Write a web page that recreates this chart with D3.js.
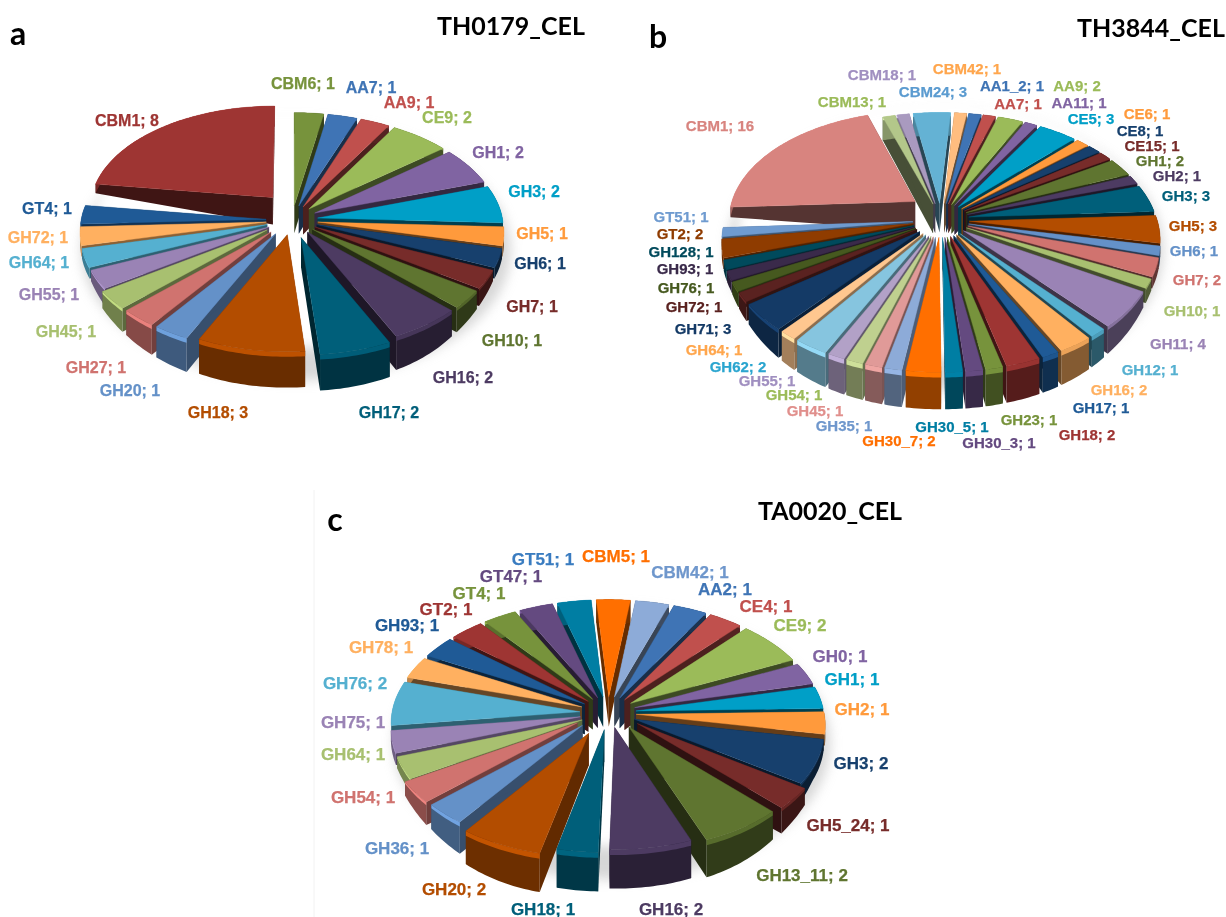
<!DOCTYPE html>
<html>
<head>
<meta charset="utf-8">
<script src="https://cdn.jsdelivr.net/npm/d3@7"></script>
<style>
    html, body { margin: 0; padding: 0; background: #fff; }
    svg { display: block; filter: blur(0.4px); }
    .lab { font-family: "Liberation Sans", sans-serif; font-weight: 700; text-anchor: middle; dominant-baseline: central; stroke-width: 0.25px; }
    .ttl { font-family: Lato, sans-serif; font-weight: 700; fill: #000; text-anchor: middle; dominant-baseline: central; }
</style>
</head>
<body>
<div id="chart"></div>
<script>
/* global d3 */

// series a
let categoriesA = ['AA7', 'AA9', 'CE9', 'GH1', 'GH3', 'GH5', 'GH6', 'GH7', 'GH10', 'GH16', 'GH17', 'GH18', 'GH20', 'GH27', 'GH45', 'GH55', 'GH64', 'GH72', 'GT4', 'CBM1', 'CBM6']
let valuesA = [1, 1, 2, 2, 2, 1, 1, 1, 1, 2, 2, 3, 1, 1, 1, 1, 1, 1, 1, 8, 1]

// series b
let categoriesB = ['AA1_2', 'AA7', 'AA9', 'AA11', 'CE5', 'CE6', 'CE8', 'CE15', 'GH1', 'GH2', 'GH3', 'GH5', 'GH6', 'GH7', 'GH10', 'GH11', 'GH12', 'GH16', 'GH17', 'GH18', 'GH23', 'GH30_3', 'GH30_5', 'GH30_7', 'GH35', 'GH45', 'GH54', 'GH55', 'GH62', 'GH64', 'GH71', 'GH72', 'GH76', 'GH93', 'GH128', 'GT2', 'GT51', 'CBM1', 'CBM13', 'CBM18', 'CBM24', 'CBM42']
let valuesB = [1, 1, 2, 1, 3, 1, 1, 1, 2, 1, 3, 3, 1, 2, 1, 4, 1, 2, 1, 2, 1, 1, 1, 2, 1, 1, 1, 1, 2, 1, 3, 1, 1, 1, 1, 2, 1, 16, 1, 1, 3, 1]

// series c
let categoriesC = ['AA2', 'CE4', 'CE9', 'GH0', 'GH1', 'GH2', 'GH3', 'GH5_24', 'GH13_11', 'GH16', 'GH18', 'GH20', 'GH36', 'GH54', 'GH64', 'GH75', 'GH76', 'GH78', 'GH93', 'GT2', 'GT4', 'GT47', 'GT51', 'CBM5', 'CBM42']
let valuesC = [1, 1, 2, 1, 1, 1, 2, 1, 2, 2, 1, 2, 1, 1, 1, 1, 2, 1, 1, 1, 1, 1, 1, 1, 1]

// office style colour cycle, six hues in six shades
let palette = [
    '#3f74b5', '#c0504d', '#9bbb59', '#8064a2', '#009fc7', '#ff9a3c',
    '#17406d', '#772c2a', '#5f7530', '#4d3b62', '#005f7a', '#b34d00',
    '#6491c8', '#d0736f', '#a8c070', '#9a83b5', '#55b0d0', '#ffb060',
    '#1f5a96', '#9e3533', '#77933c', '#644a80', '#007ea3', '#ff6f00',
    '#8dabd8', '#e09a98', '#bfd08f', '#b2a1c7', '#86c5df', '#ffc78f',
    '#143a66', '#5a2220', '#46591f', '#3a2a4a', '#004a5c', '#8f3c00',
    '#6f9bd0', '#d8847f', '#b3c78a', '#a99abf', '#64b2d4', '#ffbd7f'
]

// the palest shades get a stronger colour on their labels
let labelTints = { 24: '#6f97cc', 25: '#e08f8c', 26: '#9bbb59', 27: '#a08fc0', 28: '#2ba5cf', 29: '#ffa64d', 38: '#9bbb59', 39: '#a08fc0', 40: '#5b9bd0', 41: '#ffa64d' }

// label centres, same order as the categories
let labelsAtA = [[371, 87], [409, 102], [447, 117], [498, 152], [534, 191], [542, 233], [540, 263], [532, 306], [512, 340], [463, 377], [389, 412], [218, 412], [130, 390], [96, 367], [66, 331], [49, 294], [39, 262], [38, 237], [47, 208], [127, 120], [303, 83]]
let labelsAtB = [[1012, 85], [1018, 103], [1077, 85], [1079, 102], [1091, 118], [1147, 113], [1140, 130], [1152, 145], [1160, 160], [1177, 175], [1186, 195], [1193, 225], [1194, 250], [1197, 279], [1192, 310], [1178, 343], [1150, 369], [1119, 389], [1101, 407], [1087, 434], [1029, 419], [999, 442], [952, 426], [899, 440], [844, 425], [815, 410], [794, 394], [767, 380], [738, 366], [714, 349], [703, 328], [694, 306], [686, 287], [685, 268], [681, 251], [680, 233], [681, 216], [720, 125], [852, 101], [882, 74], [933, 91], [967, 68]]
let labelsAtC = [[725, 589], [766, 606], [800, 625], [840, 656], [852, 679], [862, 709], [861, 763], [848, 825], [802, 875], [671, 909], [543, 909], [454, 889], [397, 848], [363, 797], [353, 754], [353, 722], [355, 683], [381, 647], [407, 625], [446, 609], [479, 593], [511, 576], [543, 559], [616, 556], [690, 572]]

let width = 1226
let height = 917

let svg = d3.select('#chart').append('svg')
    .attr('width', width)
    .attr('height', height)

let defs = svg.append('defs')
defs.append('filter')
    .attr('id', 'soft')
    .attr('x', '-20%').attr('y', '-20%').attr('width', '140%').attr('height', '140%')
    .append('feGaussianBlur')
    .attr('stdDeviation', 6)

// faint edge of the pasted panel c
svg.append('line')
    .attr('x1', 314).attr('x2', 314).attr('y1', 490).attr('y2', 917)
    .attr('stroke', '#f2f2f2')

let line = d3.line()

function drawPie (opt) {
    let g = svg.append('g')
    let xScale = d3.scaleLinear().domain([-1, 1]).range([opt.cx - opt.rx, opt.cx + opt.rx])
    let yScale = d3.scaleLinear().domain([-1, 1]).range([opt.cy - opt.ry, opt.cy + opt.ry])
    let wallScale = d3.scaleLinear().domain([-1, 1]).range(opt.wall)
    // how dark the outer wall gets going round the front, in radians
    let wallShade = d3.scaleLinear().domain([Math.PI / 2, Math.PI, 1.5 * Math.PI]).range([2.3, 1.6, 0.8]).clamp(true)
    let rimShade = d3.scaleLinear().domain([Math.PI / 2, Math.PI, 1.5 * Math.PI]).range([-0.8, 0.1, 0.6]).clamp(true)

    let start = opt.start * Math.PI / 180
    let pie = d3.pie().sort(null).startAngle(start).endAngle(start + 2 * Math.PI)
    let arcs = pie(opt.values)

    function project (u, v, z) {
        let p = 1 + opt.persp * v
        let squeeze = Math.max(0.35, 1 - 0.55 * Math.pow(u, 4))
        return [xScale(u * p), yScale(v * p) + z * wallScale(v) * squeeze]
    }

    // ground shadow, then white so the gaps between slices stay clean
    g.append('ellipse')
        .attr('cx', opt.cx + 4)
        .attr('cy', opt.cy + 30)
        .attr('rx', opt.rx * 1.16)
        .attr('ry', opt.ry * 1.24)
        .attr('fill', '#b5b5b5')
        .attr('opacity', 0.55)
        .attr('filter', 'url(#soft)')
    g.append('ellipse')
        .attr('cx', opt.cx)
        .attr('cy', opt.cy + 8)
        .attr('rx', opt.rx * 1.08)
        .attr('ry', opt.ry * 1.14)
        .attr('fill', '#fff')
        .attr('filter', 'url(#soft)')

    let slices = arcs.map(function (d, i) {
        let mid = (d.startAngle + d.endAngle) / 2
        let e = opt.explodeBy[opt.cats[i]] || [opt.explode, opt.explode]
        return {
            index: i,
            a0: d.startAngle,
            a1: d.endAngle,
            mid: mid,
            ox: e[0] * Math.sin(mid),
            oy: -e[1] * Math.cos(mid)
        }
    })
    // back slices first
    slices.sort(function (a, b) {
        return -Math.cos(a.mid) + Math.cos(b.mid)
    })

    slices.forEach(function (s) {
        let color = d3.color(palette[s.index])
        let n = Math.max(3, Math.ceil((s.a1 - s.a0) / 0.02))
        let angles = d3.range(n + 1).map(function (k) {
            return s.a0 + (s.a1 - s.a0) * k / n
        })
        let rimAt = function (z) {
            return angles.map(function (a) {
                return project(s.ox + Math.sin(a), s.oy - Math.cos(a), z)
            })
        }
        let apex0 = project(s.ox, s.oy, 0)
        let apex1 = project(s.ox, s.oy, 1)
        let rim0 = rimAt(0)
        let rim1 = rimAt(1)
        let band = rimAt(0.14)
        let mid = ((s.mid % (2 * Math.PI)) + 2 * Math.PI) % (2 * Math.PI)
        let radialDark = 2.6
        if (mid > Math.PI && mid < 1.55 * Math.PI) radialDark = 1.7
        let side = color.darker(radialDark)

        // the two straight walls
        g.append('path')
            .attr('d', line([apex0, rim0[0], rim1[0], apex1]) + 'Z')
            .attr('fill', side)
        g.append('path')
            .attr('d', line([apex0, rim0[n], rim1[n], apex1]) + 'Z')
            .attr('fill', side)

        // outer wall with a thin lit bevel along the top
        g.append('path')
            .attr('d', line(rim0.concat(rim1.slice().reverse())) + 'Z')
            .attr('fill', color.darker(wallShade(mid)))
        let rim = rimShade(mid)
        g.append('path')
            .attr('d', line(rim0.concat(band.slice().reverse())) + 'Z')
            .attr('fill', rim >= 0 ? color.brighter(rim) : color.darker(-rim))

        // top face
        g.append('path')
            .attr('d', line([apex0].concat(rim0)) + 'Z')
            .attr('fill', color)
            .attr('stroke', color)
            .attr('stroke-width', 0.4)
    })

    opt.cats.forEach(function (c, i) {
        let tint = opt.labelColor[c] || labelTints[i] || palette[i]
        g.append('text')
            .attr('class', 'lab')
            .attr('x', opt.labelsAt[i][0])
            .attr('y', opt.labelsAt[i][1])
            .attr('font-size', opt.fontSize)
            .attr('fill', tint)
            .attr('stroke', tint)
            .text(c + '; ' + opt.values[i])
    })

    svg.append('text')
        .attr('class', 'ttl')
        .attr('x', opt.letter[0])
        .attr('y', opt.letter[1])
        .attr('font-size', 32)
        .text(opt.letter[2])
    svg.append('text')
        .attr('class', 'ttl')
        .attr('x', opt.title[0])
        .attr('y', opt.title[1])
        .attr('font-size', 25)
        .text(opt.title[2])
}

drawPie({
    cats: categoriesA,
    values: valuesA,
    labelsAt: labelsAtA,
    labelColor: {},
    cx: 292, cy: 220, rx: 185, ry: 105,
    wall: [22, 35],
    persp: 0.09,
    start: 10.3,
    explode: 0.14,
    explodeBy: { CBM1: [0.16, 0.29], GH17: [0.18, 0.17], GH20: [0.17, 0.15], GH27: [0.17, 0.15], GH45: [0.17, 0.15] },
    fontSize: 16,
    letter: [18, 32, 'a'],
    title: [511, 25, 'TH0179_CEL']
})

drawPie({
    cats: categoriesB,
    values: valuesB,
    labelsAt: labelsAtB,
    labelColor: {},
    cx: 941, cy: 220, rx: 188, ry: 113,
    wall: [24, 36],
    persp: 0.15,
    start: 8.6,
    explode: 0.15,
    explodeBy: { CBM1: [0.17, 0.3] },
    fontSize: 15,
    letter: [658, 35, 'b'],
    title: [1151, 27, 'TH3844_CEL']
})

drawPie({
    cats: categoriesC,
    values: valuesC,
    labelsAt: labelsAtC,
    labelColor: { GT51: '#3a7cc0' },
    cx: 608, cy: 713, rx: 188, ry: 110,
    wall: [24, 38],
    persp: 0.09,
    start: 19,
    explode: 0.15,
    explodeBy: { GH20: [0.24, 0.2], GH36: [0.2, 0.15], GH54: [0.2, 0.15], GH16: [0.2, 0.13], GH13_11: [0.2, 0.15], GH5_24: [0.2, 0.15] },
    fontSize: 17,
    letter: [335, 518, 'c'],
    title: [830, 510, 'TA0020_CEL']
})
</script>
</body>
</html>
